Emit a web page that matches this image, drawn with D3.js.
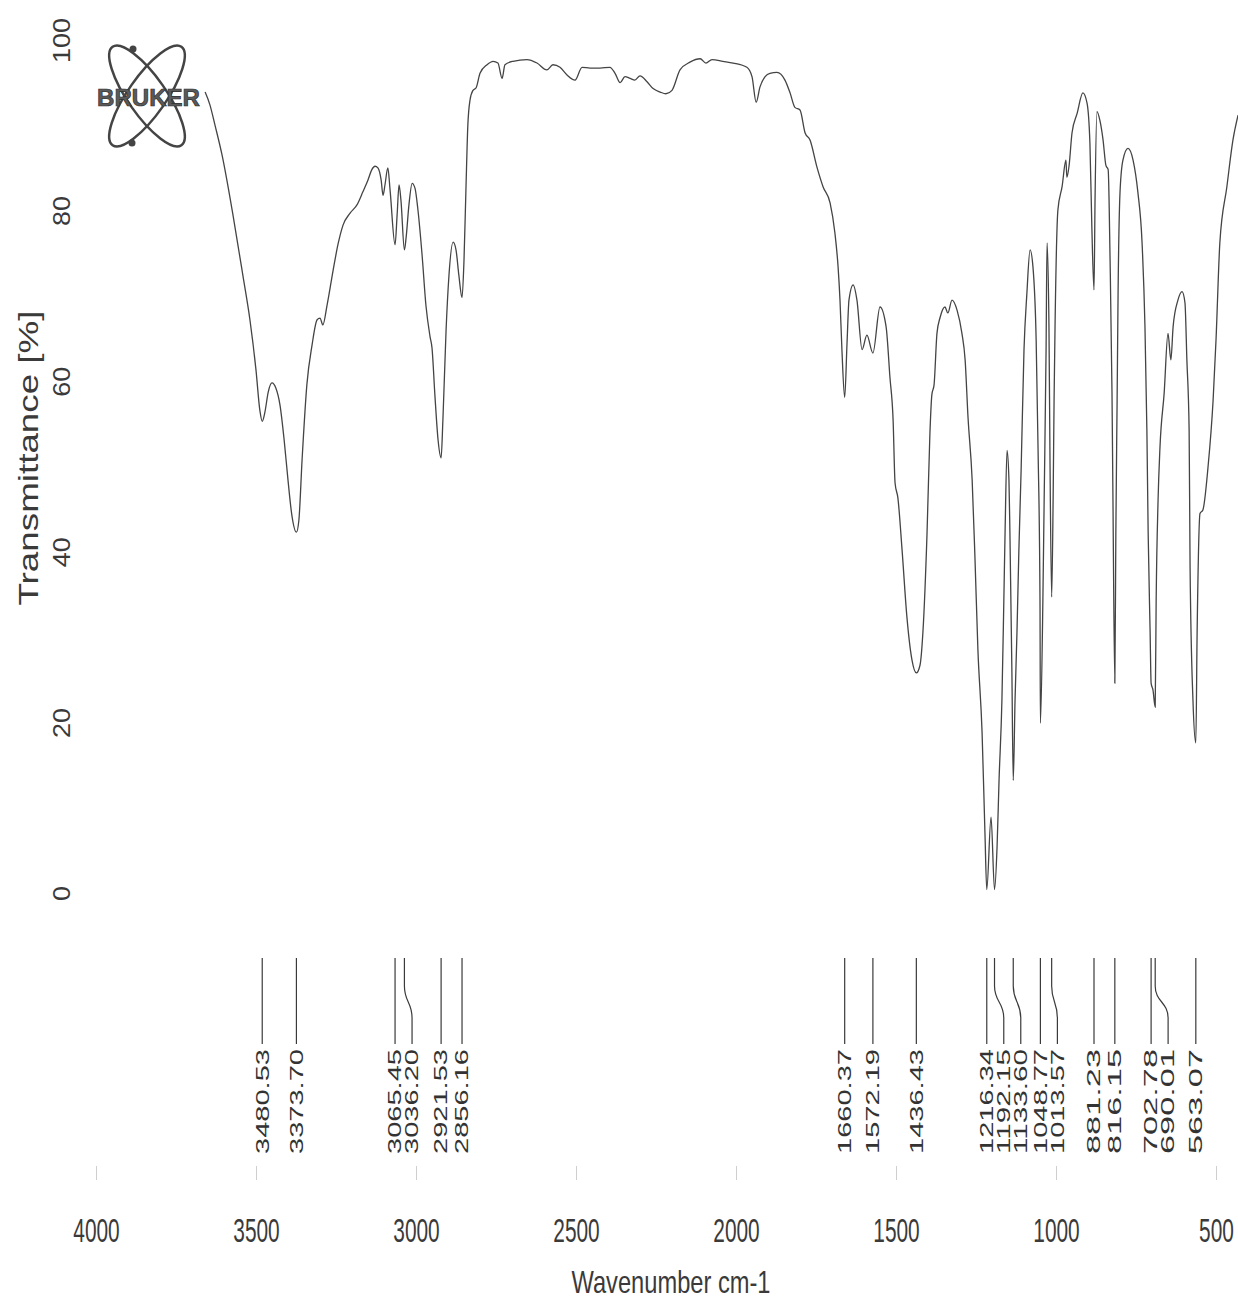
<!DOCTYPE html>
<html>
<head>
<meta charset="utf-8">
<title>IR spectrum</title>
<script src="https://cdn.jsdelivr.net/npm/d3@7"></script>
<style>
  body { margin: 0; background: #fff; }
  text { font-family: "Liberation Sans", Arial, sans-serif; fill: #3a3a3a; }
</style>
</head>
<body>
<svg width="1238" height="1301"></svg>
<script>

// wavenumber (cm-1), transmittance (%)
const spectrum = [
  [3659, 93.9], [3644, 92.4], [3628, 90.0], [3606, 86.5], [3572, 79.5], [3541, 72.4],
  [3519, 67.2], [3500, 61.3], [3488, 56.6], [3480.53, 55.3], [3472, 56.4], [3462, 58.7],
  [3450, 59.8], [3438, 59.2], [3425, 57.2], [3412, 53.1], [3400, 48.4], [3388, 44.3],
  [3373.7, 42.3], [3366, 43.7], [3356, 50.8], [3341, 59.6], [3325, 64.2], [3309, 67.2],
  [3300, 67.4], [3291, 66.6], [3278, 68.9], [3259, 73.0], [3244, 76.0], [3228, 78.3],
  [3206, 79.7], [3184, 80.7], [3166, 82.2], [3150, 83.6], [3138, 84.8], [3128, 85.2],
  [3119, 85.0], [3109, 83.6], [3103, 81.8], [3097, 83.0], [3088, 85.0], [3081, 82.4],
  [3065.45, 76.0], [3059, 79.5], [3053, 83.0], [3047, 81.2], [3036.2, 75.4], [3031, 76.8],
  [3022, 80.7], [3012, 83.2], [3003, 82.6], [2994, 80.1], [2981, 74.8], [2969, 68.9],
  [2956, 65.2], [2950, 63.9], [2941, 58.4], [2931, 53.1], [2921.53, 51.0], [2916, 55.4],
  [2906, 66.0], [2897, 72.4], [2884, 76.3], [2875, 75.4], [2866, 72.4], [2856.16, 69.8],
  [2850, 74.2], [2844, 82.4], [2838, 90.0], [2831, 93.0], [2822, 94.1],
  [2812, 94.4], [2800, 96.1], [2778, 97.1], [2759, 97.5], [2744, 97.3], [2731, 95.5],
  [2722, 97.1], [2697, 97.5], [2653, 97.7], [2622, 97.3], [2591, 96.5], [2572, 97.1],
  [2550, 96.8], [2528, 95.9], [2503, 95.3], [2481, 96.8], [2456, 96.7], [2425, 96.7],
  [2394, 96.8], [2378, 96.1], [2362, 95.0], [2347, 95.7], [2331, 95.5], [2316, 95.3],
  [2300, 95.8], [2278, 95.1], [2259, 94.3], [2237, 93.9], [2219, 93.7], [2200, 94.1],
  [2175, 96.5], [2144, 97.4], [2112, 97.8], [2094, 97.3], [2075, 97.7], [2041, 97.5],
  [2009, 97.3], [1966, 96.8], [1950, 95.7], [1937, 92.7], [1925, 94.5], [1909, 95.7],
  [1894, 96.1], [1872, 96.2], [1847, 95.3], [1831, 93.8], [1816, 92.1], [1800, 91.8],
  [1784, 89.1], [1769, 88.3], [1747, 85.1], [1728, 82.8], [1706, 80.9], [1691, 77.4],
  [1681, 73.4], [1675, 69.5], [1669, 63.7], [1660.37, 58.1], [1653, 64.5], [1647, 69.5],
  [1634, 71.3], [1622, 69.5], [1606, 63.7], [1591, 65.4], [1572.19, 63.3], [1550, 68.7],
  [1531, 66.4], [1519, 60.5], [1509, 55.4], [1503, 48.1], [1494, 46.3], [1481, 40.2],
  [1466, 32.4], [1450, 27.3], [1436.43, 25.8], [1425, 26.7], [1416, 30.5], [1403, 42.2],
  [1394, 53.9], [1388, 58.4], [1381, 59.6], [1372, 65.6], [1362, 67.5], [1347, 68.7],
  [1338, 68.0], [1325, 69.5], [1309, 68.3], [1294, 65.6], [1284, 62.5], [1275, 55.8],
  [1262, 48.4], [1253, 39.0], [1244, 28.5], [1231, 18.8], [1222, 7.0], [1216.34, 0.4],
  [1203, 8.9], [1192.15, 0.4], [1184, 5.6], [1178, 13.2], [1169, 22.6], [1163, 34.3],
  [1159, 42.6], [1153, 51.9], [1147, 48.4], [1144, 42.2], [1138, 26.5], [1133.6, 13.2],
  [1128, 22.6], [1122, 30.5], [1116, 40.2], [1109, 49.6], [1100, 63.7], [1091, 70.3],
  [1081, 75.4], [1072, 73.4], [1062, 64.8], [1056, 51.9], [1050, 34.3], [1048.77, 19.9],
  [1041, 34.3], [1037, 46.1], [1031, 63.7], [1028, 76.2], [1022, 66.4], [1019, 51.9],
  [1013.57, 34.7], [1009, 46.1], [1006, 57.8], [1003, 66.4], [994, 80.1], [981, 82.8],
  [969, 85.9], [966, 83.9], [959, 85.3], [950, 89.1], [934, 91.4], [916, 93.8],
  [903, 92.6], [894, 87.9], [888, 78.1], [881.23, 70.7], [878, 81.2], [872, 91.6],
  [863, 90.6], [853, 88.3], [844, 85.3], [837, 84.8], [831, 74.2], [825, 58.6],
  [822, 46.1], [816.15, 24.6], [813, 42.2], [809, 57.8], [806, 70.3], [800, 82.1],
  [791, 85.9], [775, 87.3], [759, 85.9], [744, 82.1], [731, 76.2], [722, 66.4],
  [716, 54.3], [712, 42.2], [706, 30.8], [702.78, 24.6], [697, 23.8], [690.01, 21.8],
  [687, 34.3], [681, 46.1], [675, 52.3], [662, 58.6], [650, 65.6], [641, 62.5],
  [634, 66.4], [619, 69.5], [606, 70.5], [597, 69.2], [591, 62.5], [584, 54.3],
  [581, 38.2], [572, 22.6], [563.07, 17.6], [559, 30.5], [550, 44.5], [541, 44.9],
  [525, 49.9], [509, 57.8], [500, 64.8], [488, 76.2], [466, 82.8], [447, 88.3], [431, 91.2]
];

// picked peaks
const peakWaves = [3480.53, 3373.70, 3065.45, 3036.20, 2921.53, 2856.16, 1660.37, 1572.19,
  1436.43, 1216.34, 1192.15, 1133.60, 1048.77, 1013.57, 881.23, 816.15, 702.78, 690.01, 563.07];

const xTicks = [4000, 3500, 3000, 2500, 2000, 1500, 1000, 500];
const yTicks = [0, 20, 40, 60, 80, 100];

let svg = d3.select("svg");

let x = d3.scaleLinear().domain([4000, 500]).range([96, 1216]);
let y = d3.scaleLinear().domain([0, 100]).range([893, 40]);

// spectrum trace
let line = d3.line()
  .x(d => x(d[0]))
  .y(d => y(d[1]))
  .curve(d3.curveMonotoneX);

svg.append("path")
  .datum(spectrum)
  .attr("d", line)
  .attr("fill", "none")
  .attr("stroke", "#444")
  .attr("stroke-width", 1.3);

// y axis: rotated labels, no line
let yAxis = svg.append("g")
  .attr("transform", "translate(62,0)")
  .call(d3.axisLeft(y).tickValues(yTicks).tickSize(0));
yAxis.select(".domain").remove();
yAxis.selectAll("text")
  .attr("x", 0).attr("y", 0).attr("dy", "0.35em")
  .attr("transform", "rotate(-90)")
  .attr("text-anchor", "middle")
  .attr("font-size", 24)
  .attr("font-family", null)
  .attr("textLength", d => String(d).length * 15)
  .attr("lengthAdjust", "spacingAndGlyphs");

svg.append("text")
  .attr("transform", "translate(28,458) rotate(-90)")
  .attr("text-anchor", "middle")
  .attr("dy", "0.35em")
  .attr("font-size", 28)
  .attr("textLength", 295)
  .attr("lengthAdjust", "spacingAndGlyphs")
  .text("Transmittance [%]");

// x axis: faint ticks, tall narrow labels (squeezed horizontally like the scan)
let xAxis = svg.append("g")
  .attr("transform", "translate(0,1166)")
  .call(d3.axisBottom(x).tickValues(xTicks).tickSize(14).tickFormat(d3.format("d")));
xAxis.select(".domain").remove();
xAxis.selectAll("line").attr("stroke", "#cfcfcf");
xAxis.selectAll("text")
  .attr("y", 64).attr("dy", "0.35em")
  .attr("font-size", 33)
  .attr("font-family", null)
  .attr("transform", "scale(0.632,1)");

svg.append("text")
  .attr("transform", "translate(671,1282) scale(0.74,1)")
  .attr("dy", "0.35em")
  .attr("text-anchor", "middle")
  .attr("font-size", 32)
  .text("Wavenumber cm-1");

// peak markers, labels pushed apart when too close
let prev = -Infinity;
let peaks = peakWaves.map(function(w) {
  let x0 = x(w);
  let x1 = Math.max(x0, prev + 17);
  prev = x1;
  return { w: w, x0: x0, x1: x1 };
});

let markLine = d3.line().curve(d3.curveBumpY);

let peakG = svg.append("g");
peakG.selectAll("path")
  .data(peaks)
  .enter()
  .append("path")
  .attr("d", d => markLine([[d.x0, 958], [d.x0, 986], [d.x1, 1018], [d.x1, 1044]]))
  .attr("fill", "none")
  .attr("stroke", "#3a3a3a")
  .attr("stroke-width", 1.2);

peakG.selectAll("text")
  .data(peaks)
  .enter()
  .append("text")
  .attr("transform", d => "translate(" + d.x1 + ",1154) rotate(-90)")
  .attr("dy", "0.35em")
  .attr("font-size", 18)
  .attr("textLength", 105)
  .attr("lengthAdjust", "spacingAndGlyphs")
  .style("fill", "#333")
  .text(d => d3.format(".2f")(d.w));

// Bruker logo
let logo = svg.append("g").attr("transform", "translate(147,96)");
[55, -55].forEach(function(a) {
  logo.append("ellipse")
    .attr("rx", 60).attr("ry", 19)
    .attr("transform", "rotate(" + a + ")")
    .attr("fill", "none")
    .attr("stroke", "#444")
    .attr("stroke-width", 2.5);
});
logo.append("circle").attr("cx", -14).attr("cy", -47).attr("r", 3.5).attr("fill", "#444");
logo.append("circle").attr("cx", -15).attr("cy", 47).attr("r", 3.5).attr("fill", "#444");
logo.append("text")
  .attr("x", -50).attr("y", 10)
  .attr("font-size", 24)
  .attr("font-weight", "bold")
  .attr("textLength", 103)
  .attr("lengthAdjust", "spacingAndGlyphs")
  .style("fill", "#5a5a5a")
  .attr("stroke", "#2e2e2e")
  .attr("stroke-width", 0.7)
  .text("BRUKER");

</script>
</body>
</html>
